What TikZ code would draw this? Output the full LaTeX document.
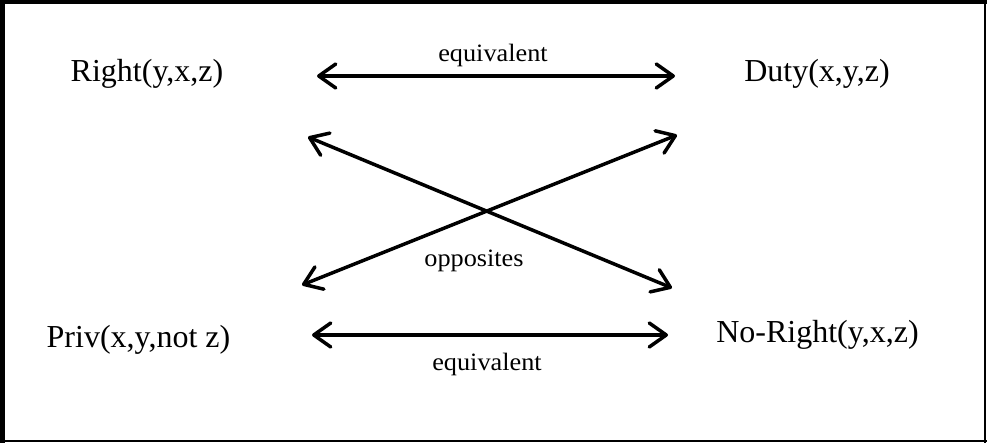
\documentclass[tikz,border=0pt]{standalone}
\usepackage{fontspec}
\setmainfont{Liberation Serif}
\usetikzlibrary{arrows.meta}
\tikzset{
  big/.style={inner sep=0pt, anchor=base, font=\fontsize{32}{36}\selectfont},
  small/.style={inner sep=0pt, anchor=base, font=\fontsize{25}{29}\selectfont},
  conn/.style={line width=3.5pt, {Straight Barb[length=17pt,width=24pt,line cap=round,line join=round]}-{Straight Barb[length=17pt,width=24pt,line cap=round,line join=round]}},
  frame/.style={black}
}
\newcommand{\wide}[1]{\scalebox{1.05}[1]{#1}}
\begin{document}
\begin{tikzpicture}[x=1pt,y=-1pt]
\useasboundingbox (0,0) rectangle (987,443);
% frame
\fill[white] (0,0) rectangle (987,443);
\draw[frame, line width=5pt] (2.5,0) -- (2.5,443);
\draw[frame, line width=4pt] (0,2) -- (987,2);
\draw[frame, line width=2pt] (985,0) -- (985,443);
\draw[frame, line width=2pt] (0,441) -- (987,441);
% nodes
\node[big] (right) at (147,82) {Right(y,x,z)};
\node[big] (duty) at (817,82) {Duty(x,y,z)};
\node[big] (priv) at (138.5,347) {Priv(x,y,not z)};
\node[big] (noright) at (817.5,342) {No-Right(y,x,z)};
\node[small] (eqtop) at (493,62) {\wide{equivalent}};
\node[small] (eqbot) at (487,370) {\wide{equivalent}};
\node[small] (opp) at (474,267) {\wide{opposites}};
% arrow end points
\coordinate (t1) at (317,76);
\coordinate (t2) at (675,76);
\coordinate (b1) at (312,335);
\coordinate (b2) at (668,335);
\coordinate (c1) at (308,137);
\coordinate (c2) at (672,288);
\coordinate (d1) at (302,285);
\coordinate (d2) at (677,135);
\draw[conn] (t1) -- (t2);
\draw[conn] (b1) -- (b2);
\draw[conn] (c1) -- (c2);
\draw[conn] (d1) -- (d2);
\end{tikzpicture}
\end{document}
